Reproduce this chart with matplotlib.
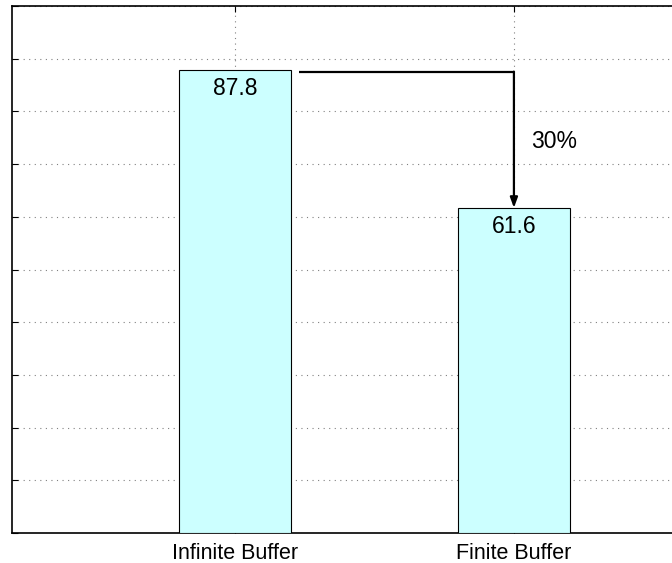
import matplotlib
matplotlib.use("Agg")
import matplotlib.pyplot as plt

categories = ["Infinite Buffer", "Finite Buffer"]
values = [87.8, 61.6]
value_labels = ["87.8", "61.6"]
reduction_label = "30%"
y_ticks = [0, 10, 20, 30, 40, 50, 60, 70, 80, 90, 100]

plt.rcParams['font.family'] = ['Liberation Sans', 'DejaVu Sans']

fig = plt.figure(figsize=(6.72, 5.63), dpi=100)
ax = fig.add_axes([12/672, 30/563, 725/672, 527/563])

x = [1, 2]
ax.bar(x, values, width=0.4, color="#ccffff", edgecolor="black", linewidth=0.8, zorder=3)

ax.set_xlim(0.2, 2.8)
ax.set_ylim(0, 100)
ax.set_yticks(y_ticks)
ax.set_yticklabels([])
ax.set_xticks(x)
ax.set_xticklabels(categories, fontsize=15.5)

ax.grid(True, linestyle=(0, (1, 4)), color="#808080", linewidth=0.8, zorder=0)
ax.set_axisbelow(True)
ax.tick_params(direction="in", length=4, width=0.8, top=True, right=True, pad=7)
for s in ax.spines.values():
    s.set_linewidth(1.2)

for xi, v, lab in zip(x, values, value_labels):
    ax.text(xi, v - 3.4, lab, ha="center", va="center", fontsize=16.5, zorder=5)

# arrow indicating the reduction
y_line = values[0] - 0.4
ax.plot([1.23, 2], [y_line, y_line], color="black", linewidth=1.6, zorder=4,
        solid_capstyle="butt")
ax.annotate("", xy=(2, values[1] + 0.1), xytext=(2, y_line + 0.15),
            arrowprops=dict(arrowstyle="-|>,head_length=0.6,head_width=0.22",
                            color="black", linewidth=1.6, shrinkA=0, shrinkB=0),
            zorder=4)
ax.text(2.06, (y_line + values[1]) / 2 - 0.3, reduction_label, ha="left", va="center",
        fontsize=16.5, zorder=5)

fig.savefig("out.png", dpi=100)
